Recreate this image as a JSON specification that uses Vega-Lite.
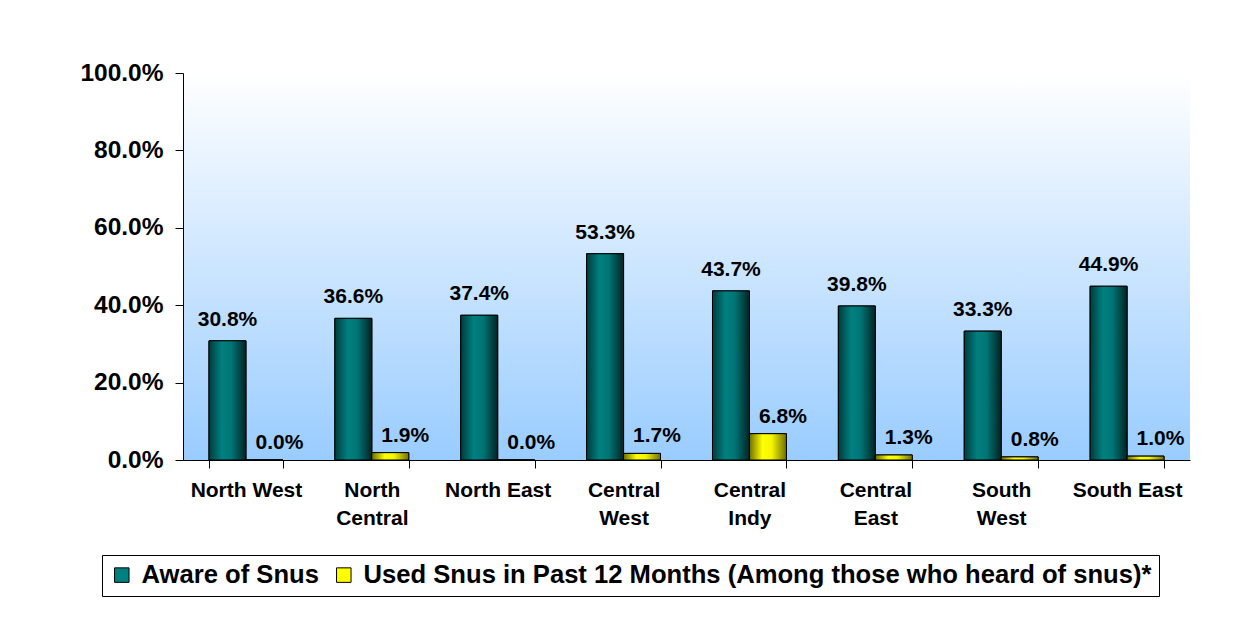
{
  "$schema": "https://vega.github.io/schema/vega-lite/v6.json",
  "width": 1007,
  "height": 387,
  "autosize": {"type": "none"},
  "padding": {"left": 183, "top": 73, "right": 53, "bottom": 169},
  "background": "white",
  "config": {
    "font": "Liberation Sans",
    "view": {
      "stroke": null,
      "fill": {
        "gradient": "linear",
        "x1": 0, "y1": 0, "x2": 0, "y2": 1,
        "stops": [
          {"offset": 0, "color": "#FFFFFF"},
          {"offset": 1, "color": "#99CCFF"}
        ]
      }
    }
  },
  "data": {
    "values": [
      {"region": "North West", "series": "Aware of Snus", "value": 0.308},
      {"region": "North West", "series": "Used Snus in Past 12 Months (Among those who heard of snus)*", "value": 0.0},
      {"region": "North Central", "series": "Aware of Snus", "value": 0.366},
      {"region": "North Central", "series": "Used Snus in Past 12 Months (Among those who heard of snus)*", "value": 0.019},
      {"region": "North East", "series": "Aware of Snus", "value": 0.374},
      {"region": "North East", "series": "Used Snus in Past 12 Months (Among those who heard of snus)*", "value": 0.0},
      {"region": "Central West", "series": "Aware of Snus", "value": 0.533},
      {"region": "Central West", "series": "Used Snus in Past 12 Months (Among those who heard of snus)*", "value": 0.017},
      {"region": "Central Indy", "series": "Aware of Snus", "value": 0.437},
      {"region": "Central Indy", "series": "Used Snus in Past 12 Months (Among those who heard of snus)*", "value": 0.068},
      {"region": "Central East", "series": "Aware of Snus", "value": 0.398},
      {"region": "Central East", "series": "Used Snus in Past 12 Months (Among those who heard of snus)*", "value": 0.013},
      {"region": "South West", "series": "Aware of Snus", "value": 0.333},
      {"region": "South West", "series": "Used Snus in Past 12 Months (Among those who heard of snus)*", "value": 0.008},
      {"region": "South East", "series": "Aware of Snus", "value": 0.449},
      {"region": "South East", "series": "Used Snus in Past 12 Months (Among those who heard of snus)*", "value": 0.010}
    ]
  },
  "encoding": {
    "x": {
      "field": "region",
      "type": "nominal",
      "sort": null,
      "scale": {"paddingInner": 0.413, "paddingOuter": 0.2065},
      "axis": {
        "title": null,
        "labelAngle": 0,
        "tickBand": "extent",
        "tickSize": 8,
        "tickColor": "black",
        "domainColor": "black",
        "labelPadding": 11,
        "labelFontSize": 21,
        "labelFontWeight": "bold",
        "labelColor": "black",
        "labelLineHeight": 28,
        "labelOverlap": false,
        "labelBaseline": "top",
        "labelLimit": 300,
        "labelExpr": "!isValid(datum.value) ? '' : (indexof(['North West','North East','South East'], datum.value) >= 0 ? datum.value : split(datum.value, ' '))"
      }
    },
    "xOffset": {
      "field": "series",
      "type": "nominal",
      "sort": null,
      "scale": {
        "domain": ["Aware of Snus", "Used Snus in Past 12 Months (Among those who heard of snus)*"],
        "paddingInner": 0,
        "paddingOuter": 0
      }
    },
    "y": {
      "field": "value",
      "type": "quantitative",
      "scale": {"domain": [0, 1]},
      "axis": {
        "title": null,
        "grid": false,
        "values": [0, 0.2, 0.4, 0.6, 0.8, 1],
        "format": ".1%",
        "domainColor": "black",
        "tickColor": "black",
        "tickSize": 8,
        "labelPadding": 12,
        "labelFontSize": 24.5,
        "labelFontWeight": "bold",
        "labelColor": "black"
      }
    }
  },
  "layer": [
    {
      "mark": {"type": "bar", "stroke": "black", "strokeWidth": 1},
      "encoding": {
        "color": {
          "field": "series",
          "type": "nominal",
          "sort": null,
          "scale": {
            "domain": ["Aware of Snus", "Used Snus in Past 12 Months (Among those who heard of snus)*"],
            "range": ["#008080", "#FFFF00"]
          },
          "legend": {
            "title": null,
            "orient": "none",
            "legendX": -81,
            "legendY": 482,
            "direction": "horizontal",
            "strokeColor": "black",
            "fillColor": "white",
            "padding": 7,
            "labelFontSize": 25.6,
            "labelFontWeight": "bold",
            "labelColor": "black",
            "labelLimit": 1200,
            "symbolType": "square",
            "symbolSize": 210,
            "symbolStrokeColor": "black",
            "symbolStrokeWidth": 1,
            "symbolOpacity": 1,
            "columnPadding": 12,
            "labelOffset": 7
          }
        }
      }
    },
    {
      "transform": [{"filter": "datum.series === 'Aware of Snus'"}],
      "mark": {
        "type": "bar",
        "stroke": "black",
        "strokeWidth": 1,
        "fill": {
          "gradient": "linear",
          "x1": 0, "y1": 0, "x2": 1, "y2": 0,
          "stops": [
            {"offset": 0, "color": "#003c3c"},
            {"offset": 0.35, "color": "#008080"},
            {"offset": 0.6, "color": "#007575"},
            {"offset": 1, "color": "#002424"}
          ]
        }
      }
    },
    {
      "transform": [{"filter": "datum.series !== 'Aware of Snus'"}],
      "mark": {
        "type": "bar",
        "stroke": "black",
        "strokeWidth": 1,
        "fill": {
          "gradient": "linear",
          "x1": 0, "y1": 0, "x2": 1, "y2": 0,
          "stops": [
            {"offset": 0, "color": "#6e6e00"},
            {"offset": 0.35, "color": "#FFFF00"},
            {"offset": 0.6, "color": "#F5F500"},
            {"offset": 1, "color": "#707000"}
          ]
        }
      }
    },
    {
      "transform": [{"filter": "datum.series === 'Aware of Snus'"}],
      "mark": {"type": "text", "fontSize": 21, "fontWeight": "bold", "color": "black", "baseline": "alphabetic", "dy": -15},
      "encoding": {"text": {"field": "value", "type": "quantitative", "format": ".1%"}}
    },
    {
      "transform": [{"filter": "datum.series !== 'Aware of Snus'"}],
      "mark": {"type": "text", "fontSize": 21, "fontWeight": "bold", "color": "black", "baseline": "alphabetic", "dy": -11, "dx": 15},
      "encoding": {"text": {"field": "value", "type": "quantitative", "format": ".1%"}}
    }
  ]
}
